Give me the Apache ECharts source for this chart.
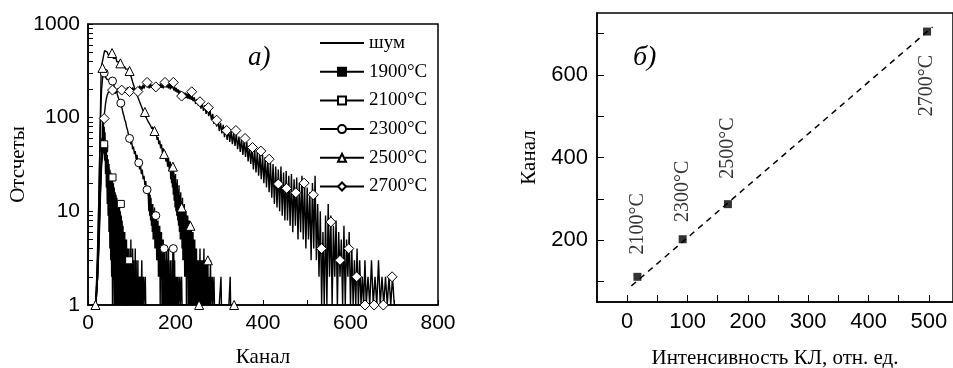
<!DOCTYPE html>
<html><head><meta charset="utf-8">
<script src="https://cdn.jsdelivr.net/npm/echarts@6/dist/echarts.min.js"></script>
<style>html,body{margin:0;padding:0;background:#fff}#c{width:953px;height:368px}</style>
</head><body><div id="c"></div>
<script>
// ---------- Panel a) spectra ----------
const seriesNames = ['шум', '1900°C', '2100°C', '2300°C', '2500°C', '2700°C'];

const noiseLine = [[8,1],[18,1],[22,2],[25,4],[28,12],[30,30],[31,60],[32,40],[33,95],[34,60],[35,100],[36,45],[37,80],[38,35],[39,70],[40,25],[41,50],[42,18],[43,40],[44,12],[45,30],[46,9],[47,24],[48,6],[49,18],[50,4],[51,14],[52,3],[53,10],[54,2],[55,8],[56,1],[57,6],[58,2],[59,5],[60,1],[61,4],[62,1],[63,5],[64,1],[65,3],[66,1],[67,4],[68,1],[69,2],[70,1],[71,3],[72,1],[74,2],[75,1],[77,2],[78,1],[81,2],[82,1],[90,1]];

const line1900 = [[10,1],[18,1],[22,2],[25,6],[28,15],[31,30],[34,42],[37,47],[39,35],[40,44],[41,25],[42,38],[43,20],[44,32],[45,14],[46,28],[47,12],[48,24],[49,9],[50,20],[51,8],[52,18],[53,6],[54,15],[55,5],[56,13],[57,4],[58,12],[59,3],[60,10],[61,2],[62,9],[63,3],[64,8],[65,1],[66,7],[67,2],[68,6],[69,1],[70,6],[71,2],[72,5],[73,1],[74,5],[75,1],[76,4],[77,2],[78,5],[79,1],[80,4],[81,1],[82,3],[83,1],[84,4],[85,1],[86,3],[87,1],[88,4],[89,1],[90,3],[91,1],[92,2],[93,1],[94,3],[95,1],[96,2],[97,1],[98,3],[99,1],[100,2],[101,1],[102,3],[103,1],[104,2],[105,1],[106,2],[107,1],[108,3],[109,1],[110,2],[111,1],[112,2],[113,1],[115,2],[116,1],[118,2],[119,1],[121,2],[122,1],[125,2],[126,1],[130,1]];
const marks1900 = [[37,47],[56,13],[75,4]];

const line2100 = [[10,1],[18,1],[22,3],[25,8],[28,20],[31,38],[34,50],[37,55],[39,40],[40,50],[41,32],[42,45],[43,28],[44,40],[45,24],[46,36],[47,20],[48,32],[49,18],[50,28],[51,15],[52,26],[53,13],[54,24],[55,11],[56,22],[57,10],[58,20],[59,8],[60,18],[61,7],[62,16],[63,6],[64,15],[65,5],[66,14],[67,4],[68,13],[69,4],[70,12],[71,3],[72,11],[73,3],[74,10],[75,2],[76,9],[77,2],[78,8],[79,1],[80,7],[81,2],[82,6],[83,1],[84,6],[85,1],[86,5],[87,1],[88,5],[89,1],[90,4],[91,1],[92,4],[93,1],[94,3],[95,1],[96,4],[97,1],[98,5],[99,1],[100,3],[101,1],[102,4],[103,1],[104,3],[105,1],[106,2],[107,1],[108,4],[109,1],[110,3],[111,1],[112,2],[113,1],[114,3],[115,1],[117,2],[118,1],[120,2],[121,1],[123,3],[124,1],[127,2],[128,1],[131,2],[132,1],[136,1]];
const marks2100 = [[37,52],[56,23],[75,12],[94,3]];

const line2300 = [[10,1],[18,1],[22,3],[25,15],[28,80],[31,200],[34,280],[36,310],[38,290],[40,270],[42,280],[44,255],[46,265],[48,245],[50,255],[52,240],[54,248],[56,235],[58,230],[60,215],[62,205],[64,195],[66,185],[68,170],[70,160],[72,152],[74,145],[76,132],[78,125],[80,112],[82,105],[84,95],[86,90],[88,80],[90,75],[92,68],[94,62],[96,58],[98,52],[100,55],[102,46],[104,49],[106,41],[108,44],[110,36],[112,40],[114,32],[116,35],[118,28],[120,31],[122,25],[124,28],[126,22],[128,24],[130,19],[132,21],[134,16],[136,18],[138,14],[139,10],[140,17],[141,9],[142,15],[143,8],[144,14],[145,7],[146,12],[147,6],[148,12],[149,5],[150,10],[151,5],[152,11],[153,4],[154,9],[155,4],[156,10],[157,3],[158,8],[159,3],[160,8],[161,2],[162,7],[163,2],[164,7],[165,1],[166,6],[167,2],[168,6],[169,1],[170,5],[171,1],[172,5],[173,1],[174,4],[175,1],[176,4],[177,1],[178,3],[179,1],[180,4],[181,1],[182,3],[183,1],[184,4],[185,1],[186,2],[187,1],[188,3],[189,1],[190,2],[191,1],[192,3],[193,1],[194,4],[195,1],[196,4],[197,1],[198,3],[199,1],[200,2],[201,1],[203,2],[204,1],[206,2],[207,1],[210,2],[211,1],[214,2],[215,1],[222,1]];
const marks2300 = [[37,300],[56,246],[75,143],[95,60],[116,33],[135,17],[155,9],[174,4],[195,4]];

const line2500 = [[10,1],[17,1],[20,2],[23,6],[26,25],[28,90],[30,300],[32,380],[34,420],[36,470],[38,520],[40,545],[42,530],[44,500],[46,470],[48,490],[50,455],[52,470],[54,440],[56,480],[58,430],[60,450],[62,410],[64,430],[66,395],[68,410],[70,380],[72,395],[74,370],[76,380],[78,350],[80,365],[82,340],[84,350],[86,330],[88,340],[90,320],[92,330],[94,310],[96,300],[98,280],[100,260],[102,240],[104,230],[106,210],[108,200],[110,185],[112,180],[114,165],[116,160],[118,148],[120,140],[122,132],[124,125],[126,118],[128,115],[130,105],[132,108],[134,98],[136,100],[138,90],[140,94],[142,84],[144,88],[146,76],[148,80],[150,70],[152,74],[154,64],[156,68],[158,58],[160,62],[162,52],[164,57],[166,47],[168,52],[170,42],[172,47],[174,38],[176,44],[178,34],[180,40],[182,30],[184,37],[186,27],[188,34],[189,22],[190,32],[191,20],[192,31],[193,18],[194,28],[195,15],[196,28],[197,13],[198,24],[199,11],[200,25],[201,10],[202,20],[203,9],[204,22],[205,8],[206,17],[207,7],[208,19],[209,6],[210,15],[211,5],[212,16],[213,5],[214,13],[215,4],[216,14],[217,3],[218,11],[219,3],[220,12],[221,2],[222,10],[223,2],[224,10],[225,1],[226,9],[227,2],[228,9],[229,1],[230,8],[231,1],[232,8],[233,1],[234,7],[235,1],[236,7],[237,1],[238,6],[239,1],[240,6],[241,1],[242,5],[243,1],[244,5],[245,1],[246,4],[247,1],[248,4],[249,1],[250,3],[251,1],[253,3],[254,1],[256,4],[257,1],[259,3],[260,1],[262,3],[263,1],[265,4],[266,1],[268,3],[269,1],[271,3],[272,1],[274,3],[275,1],[277,2],[278,1],[280,3],[281,1],[284,2],[285,1],[288,2],[289,1],[300,1],[304,2],[305,1],[322,1],[325,2],[326,1],[340,1]];
const marks2500 = [[17,1],[33,340],[55,490],[74,380],[95,315],[130,115],[152,72],[174,41],[194,30],[214,11],[234,7],[254,1],[274,3],[334,1]];

const line2700 = [[10,1],[18,1],[22,2],[25,5],[28,15],[31,40],[34,70],[36,95],[38,115],[40,140],[42,160],[44,175],[46,185],[48,190],[50,180],[52,195],[54,185],[56,200],[58,185],[60,195],[62,180],[64,200],[66,185],[68,205],[70,190],[72,200],[74,185],[76,195],[78,210],[80,190],[82,205],[84,185],[86,200],[88,190],[90,210],[92,195],[94,205],[96,185],[98,200],[100,190],[102,210],[104,195],[106,205],[108,185],[110,200],[112,190],[114,210],[116,195],[118,220],[120,200],[122,215],[124,200],[126,225],[128,205],[130,220],[132,210],[134,235],[136,210],[138,225],[140,205],[142,230],[144,210],[146,225],[148,205],[150,220],[152,200],[154,225],[156,205],[158,222],[160,200],[162,225],[164,210],[166,232],[168,208],[170,225],[172,205],[174,232],[176,212],[178,235],[180,210],[182,228],[184,205],[186,232],[188,200],[190,225],[192,205],[194,230],[196,195],[198,215],[200,190],[202,208],[204,185],[206,200],[208,178],[210,195],[212,172],[214,190],[216,168],[218,186],[220,165],[222,185],[224,162],[226,182],[228,160],[230,180],[232,158],[234,178],[236,155],[238,175],[240,150],[243,165],[246,140],[249,158],[252,135],[255,150],[258,125],[261,142],[264,118],[267,135],[270,110],[273,128],[276,104],[279,120],[282,95],[285,110],[288,86],[291,102],[294,80],[297,95],[300,72],[303,88],[306,68],[309,84],[312,62],[315,80],[318,58],[321,76],[324,55],[327,72],[330,52],[333,70],[336,50],[339,68],[342,46],[345,63],[348,43],[351,60],[354,40],[357,58],[360,38],[363,55],[366,34],[369,50],[372,32],[375,48],[378,28],[381,46],[384,26],[387,44],[390,24],[393,42],[396,22],[399,40],[402,20],[405,38],[408,18],[411,36],[414,16],[417,33],[420,14],[423,32],[426,12],[429,30],[432,11],[435,28],[438,10],[441,30],[444,9],[447,26],[450,8],[453,27],[456,8],[459,24],[462,7],[465,25],[468,6],[471,22],[474,7],[477,23],[480,5],[483,20],[486,6],[489,24],[492,5],[495,21],[498,4],[501,18],[504,5],[507,16],[510,3],[513,20],[516,4],[519,24],[522,3],[525,12],[528,2],[531,10],[534,1],[537,6],[540,1],[543,9],[546,1],[549,12],[552,2],[555,9],[558,1],[561,7],[564,2],[567,8],[570,1],[573,6],[576,2],[579,5],[582,1],[585,7],[588,1],[591,5],[594,2],[597,6],[600,1],[603,4],[606,1],[609,3],[612,1],[615,4],[618,1],[621,3],[624,1],[627,2],[630,1],[633,3],[636,1],[640,2],[644,1],[648,3],[652,1],[656,2],[660,1],[664,3],[668,1],[672,2],[676,1],[680,2],[684,1],[688,2],[692,1],[696,2],[700,1],[704,1]];
const marks2700 = [[37,98],[56,197],[77,197],[95,190],[114,190],[135,238],[155,213],[176,238],[195,238],[214,170],[237,189],[256,148],[275,128],[294,94],[317,73],[338,73],[359,60],[376,48],[395,44],[414,36],[435,19.6],[454,17.6],[475,15.8],[494,20],[515,15],[534,4],[555,7.7],[576,3],[596,4],[614,2],[633,1],[654,1],[675,1],[695,2]];

const xLabelsA = [0, 200, 400, 600, 800];
const yLabelsA = [1, 10, 100, 1000];
const yAllTicksA = [1,2,3,4,5,6,7,8,9,10,20,30,40,50,60,70,80,90,100,200,300,400,500,600,700,800,900,1000];

// ---------- Panel б) ----------
const intensityB = [17, 92, 167, 497];
const channelB = [111, 202, 287, 705];
const tempLabelsB = ['2100°C', '2300°C', '2500°C', '2700°C'];
const fitLineB = [[7, 89], [506, 716]];
const xTicksB = [0,50,100,150,200,250,300,350,400,450,500];
const xLabelsB = [0, 100, 200, 300, 400, 500];
const yTicksB = [100, 200, 300, 400, 500, 600, 700];
const yLabelsB = [200, 400, 600];

// ---------- styles ----------
const serif = 'Liberation Serif';
const sans = 'Liberation Sans';
const black = '#000';
const lines = [noiseLine, line1900, line2100, line2300, line2500, line2700];
const marks = [null, marks1900, marks2100, marks2300, marks2500, marks2700];
const symbols = ['none', 'rect', 'rect', 'circle', 'triangle', 'diamond'];
const symSizes = [0, 7, 7, 8, 9, 10];
const fills = [black, black, '#fff', '#fff', '#fff', '#fff'];
const labelOffsetsB = [-53, -48, -56, 54];

const series = [];
lines.forEach((ln, i) => {
  series.push({
    type: 'line', name: seriesNames[i], xAxisIndex: 0, yAxisIndex: 0,
    symbol: symbols[i], symbolSize: symSizes[i],
    data: ln.map(p => ({ value: p, symbol: 'none' })),
    lineStyle: { color: black, width: 1.4 },
    itemStyle: { color: fills[i], borderColor: black, borderWidth: 1 },
    emphasis: { disabled: true }, z: 2
  });
});
marks.forEach((mk, i) => {
  if (!mk) return;
  series.push({
    type: 'scatter', name: 'm' + i, xAxisIndex: 0, yAxisIndex: 0,
    symbol: symbols[i], symbolSize: symSizes[i], data: mk,
    itemStyle: { color: fills[i], borderColor: black, borderWidth: 1, opacity: 1 },
    emphasis: { disabled: true }, z: 4
  });
});
series.push({
  type: 'line', name: 'fit', xAxisIndex: 1, yAxisIndex: 1, data: fitLineB,
  symbol: 'none', lineStyle: { color: black, width: 1.5, type: [6, 5] }, z: 2
});
series.push({
  type: 'scatter', name: 'pts', xAxisIndex: 1, yAxisIndex: 1,
  symbol: 'rect', symbolSize: 8,
  itemStyle: { color: black },
  data: intensityB.map((x, i) => ({
    value: [x, channelB[i]],
    label: {
      show: true, formatter: tempLabelsB[i], rotate: 90,
      position: ['50%', 4 + labelOffsetsB[i]], align: 'center', verticalAlign: 'middle',
      fontFamily: serif, fontSize: 20, color: black
    }
  })),
  z: 4
});

const axisText = { fontFamily: sans, color: black };
const option = {
  animation: false,
  backgroundColor: '#fff',
  title: [
    { text: 'а)', left: 248, top: 44, padding: 0, textStyle: { fontFamily: serif, fontStyle: 'italic', fontWeight: 'normal', fontSize: 27, color: black } },
    { text: 'б)', left: 633, top: 44, padding: 0, textStyle: { fontFamily: serif, fontStyle: 'italic', fontWeight: 'normal', fontSize: 28, color: black } }
  ],
  legend: {
    data: [{ name: 'шум', itemStyle: { opacity: 0 } }, '1900°C', '2100°C', '2300°C', '2500°C', '2700°C'],
    orient: 'vertical', left: 319, top: 33, padding: 0,
    itemWidth: 44, itemHeight: 10, itemGap: 8.7, selectedMode: false,
    textStyle: { fontFamily: serif, fontSize: 19, color: black, lineHeight: 20 }
  },
  grid: [
    { left: 88, top: 24, width: 350, height: 281, show: true, borderColor: black, borderWidth: 1.5, backgroundColor: 'rgba(0,0,0,0)', outerBoundsMode: 'none', containLabel: false },
    { left: 597, top: 13, width: 356, height: 289, show: true, borderColor: black, borderWidth: 1.5, backgroundColor: 'rgba(0,0,0,0)', outerBoundsMode: 'none', containLabel: false }
  ],
  xAxis: [
    {
      gridIndex: 0, type: 'value', min: 0, max: 800, interval: 100,
      axisLine: { onZero: false, lineStyle: { color: black, width: 1.5 } },
      axisTick: { inside: true, length: 5, lineStyle: { color: black } },
      axisLabel: { customValues: xLabelsA, margin: 8, fontSize: 21, ...axisText },
      splitLine: { show: false },
      name: 'Канал', nameLocation: 'middle', nameGap: 42,
      nameTextStyle: { fontFamily: serif, fontSize: 21, color: black }
    },
    {
      gridIndex: 1, type: 'value', min: -50, max: 540,
      axisLine: { onZero: false, lineStyle: { color: black, width: 1.5 } },
      axisTick: { customValues: xTicksB, inside: true, length: 7, lineStyle: { color: black } },
      axisLabel: { customValues: xLabelsB, margin: 9, fontSize: 22, ...axisText },
      splitLine: { show: false },
      name: 'Интенсивность КЛ, отн. ед.', nameLocation: 'middle', nameGap: 46,
      nameTextStyle: { fontFamily: serif, fontSize: 21, color: black }
    }
  ],
  yAxis: [
    {
      gridIndex: 0, type: 'log', logBase: 10, min: 1, max: 1000, position: 'left',
      axisLine: { onZero: false, lineStyle: { color: black, width: 1.5 } },
      axisTick: { customValues: yAllTicksA, inside: true, length: 5, lineStyle: { color: black } },
      axisLabel: { customValues: yLabelsA, margin: 8, fontSize: 21, formatter: v => String(Math.round(v)), ...axisText },
      splitLine: { show: false },
      name: 'Отсчеты', nameLocation: 'middle', nameGap: 57,
      nameTextStyle: { fontFamily: serif, fontSize: 21, color: black }
    },
    {
      gridIndex: 1, type: 'value', min: 50, max: 750, position: 'left',
      axisLine: { onZero: false, lineStyle: { color: black, width: 1.5 } },
      axisTick: { customValues: yTicksB, inside: true, length: 7, lineStyle: { color: black } },
      axisLabel: { customValues: yLabelsB, margin: 9, fontSize: 22, ...axisText },
      splitLine: { show: false },
      name: 'Канал', nameLocation: 'middle', nameGap: 57,
      nameTextStyle: { fontFamily: serif, fontSize: 21, color: black }
    }
  ],
  series: series
};
const chart = echarts.init(document.getElementById('c'), null, { renderer: 'canvas' });
chart.setOption(option);
</script></body></html>
